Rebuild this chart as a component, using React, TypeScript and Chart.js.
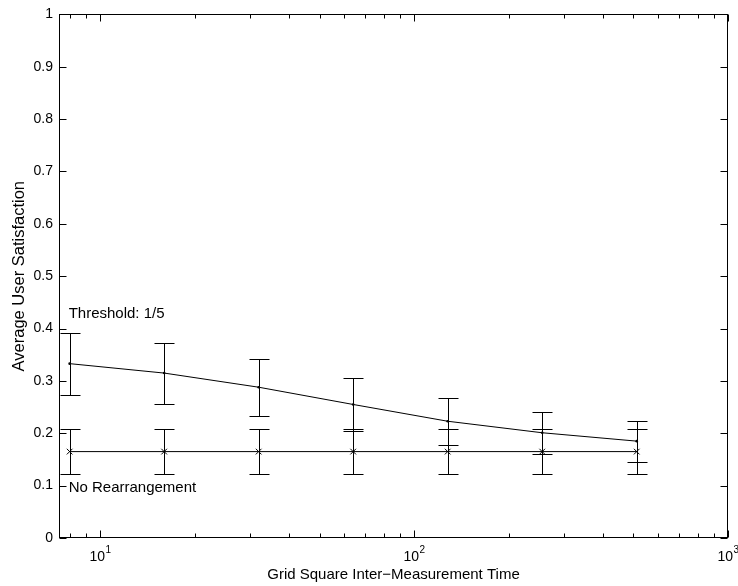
import React, { useEffect, useRef } from 'react';
import { Chart, registerables } from 'chart.js';
Chart.register(...registerables);

const xValues = [8, 16, 32, 64, 128, 256, 512];
const thresholdMean = [0.333, 0.315, 0.288, 0.255, 0.223, 0.201, 0.185];
const thresholdLow = [0.274, 0.256, 0.233, 0.205, 0.178, 0.160, 0.146];
const thresholdHigh = [0.392, 0.373, 0.342, 0.305, 0.268, 0.240, 0.224];
const baseMean = [0.165, 0.165, 0.165, 0.165, 0.165, 0.165, 0.165];
const baseLow = [0.123, 0.123, 0.123, 0.123, 0.123, 0.123, 0.123];
const baseHigh = [0.208, 0.208, 0.208, 0.208, 0.208, 0.208, 0.208];

const yTickValues = [0, 0.1, 0.2, 0.3, 0.4, 0.5, 0.6, 0.7, 0.8, 0.9, 1];
const yTickLabels = ['0', '0.1', '0.2', '0.3', '0.4', '0.5', '0.6', '0.7', '0.8', '0.9', '1'];
const xMajorTicks = [10, 100, 1000];
const xMajorExponents = ['1', '2', '3'];
const xMinorTicks = [8, 9, 20, 30, 40, 50, 60, 70, 80, 90, 200, 300, 400, 500, 600, 700, 800, 900];

const xTitle = 'Grid Square Inter\u2212Measurement Time';
const yTitle = 'Average User Satisfaction';
const thresholdLabel = 'Threshold: 1/5';
const baseLabel = 'No Rearrangement';
const thresholdLabelPos = { x: 8, y: 0.428 };
const baseLabelPos = { x: 8, y: 0.095 };

const FONT = '"Liberation Sans", Arial, Helvetica, sans-serif';

export default function App() {
  const ref = useRef<HTMLCanvasElement | null>(null);

  useEffect(() => {
    const canvas = ref.current;
    if (!canvas) return;

    const errorBars = {
      id: 'errorBars',
      afterDatasetsDraw(chart: any) {
        const { ctx, scales } = chart;
        const xs = scales.x;
        const ys = scales.y;
        ctx.save();
        ctx.strokeStyle = '#000';
        ctx.lineWidth = 1;
        const groups = [
          [thresholdLow, thresholdHigh],
          [baseLow, baseHigh],
        ];
        groups.forEach(([lo, hi]) => {
          xValues.forEach((xv, i) => {
            const px = Math.round(xs.getPixelForValue(xv)) + 0.5;
            const pl = Math.round(ys.getPixelForValue(lo[i])) + 0.5;
            const ph = Math.round(ys.getPixelForValue(hi[i])) + 0.5;
            ctx.beginPath();
            ctx.moveTo(px, pl);
            ctx.lineTo(px, ph);
            ctx.moveTo(px - 10, pl);
            ctx.lineTo(px + 10, pl);
            ctx.moveTo(px - 10, ph);
            ctx.lineTo(px + 10, ph);
            ctx.stroke();
          });
        });
        ctx.restore();
      },
    };

    const frame = {
      id: 'frame',
      afterDraw(chart: any) {
        const { ctx, chartArea, scales } = chart;
        const xs = scales.x;
        const ys = scales.y;
        const l = Math.round(chartArea.left) + 0.5;
        const r = Math.round(chartArea.right) - 0.5;
        const t = Math.round(chartArea.top) + 0.5;
        const b = Math.round(chartArea.bottom) - 0.5;
        ctx.save();
        ctx.strokeStyle = '#000';
        ctx.lineWidth = 1;
        ctx.strokeRect(l, t, r - l, b - t);
        ctx.beginPath();
        yTickValues.forEach((v) => {
          const py = Math.round(ys.getPixelForValue(v)) + 0.5;
          ctx.moveTo(l, py);
          ctx.lineTo(l + 7, py);
          ctx.moveTo(r, py);
          ctx.lineTo(r - 7, py);
        });
        xMajorTicks.forEach((v) => {
          const px = Math.round(xs.getPixelForValue(v)) + 0.5;
          ctx.moveTo(px, b);
          ctx.lineTo(px, b - 7);
          ctx.moveTo(px, t);
          ctx.lineTo(px, t + 7);
        });
        xMinorTicks.forEach((v) => {
          const px = Math.round(xs.getPixelForValue(v)) + 0.5;
          ctx.moveTo(px, b);
          ctx.lineTo(px, b - 4);
          ctx.moveTo(px, t);
          ctx.lineTo(px, t + 4);
        });
        ctx.stroke();

        // x tick labels with superscript exponents
        ctx.fillStyle = '#000';
        ctx.textBaseline = 'middle';
        xMajorTicks.forEach((v, i) => {
          const px = xs.getPixelForValue(v);
          ctx.font = `14px ${FONT}`;
          const baseW = ctx.measureText('10').width;
          ctx.font = `10px ${FONT}`;
          const expW = ctx.measureText(xMajorExponents[i]).width;
          const start = px - (baseW + expW) / 2;
          ctx.font = `14px ${FONT}`;
          ctx.textAlign = 'left';
          ctx.fillText('10', start, chartArea.bottom + 19);
          ctx.font = `10px ${FONT}`;
          ctx.fillText(xMajorExponents[i], start + baseW + 0.5, chartArea.bottom + 12);
        });

        // annotations
        ctx.font = `15px ${FONT}`;
        ctx.textAlign = 'left';
        ctx.fillText(thresholdLabel, xs.getPixelForValue(thresholdLabelPos.x) - 1, ys.getPixelForValue(thresholdLabelPos.y));
        ctx.fillText(baseLabel, xs.getPixelForValue(baseLabelPos.x) - 1, ys.getPixelForValue(baseLabelPos.y));
        ctx.restore();
      },
    };

    const chart = new Chart(canvas, {
      type: 'line',
      data: {
        datasets: [
          {
            label: thresholdLabel,
            data: xValues.map((x, i) => ({ x, y: thresholdMean[i] })),
            borderColor: '#000',
            backgroundColor: '#000',
            borderWidth: 1,
            pointStyle: 'circle',
            pointRadius: 1.3,
            pointBorderWidth: 0,
            tension: 0,
          },
          {
            label: baseLabel,
            data: xValues.map((x, i) => ({ x, y: baseMean[i] })),
            borderColor: '#000',
            backgroundColor: '#000',
            borderWidth: 1,
            pointStyle: 'crossRot',
            pointRadius: 4,
            pointBorderWidth: 1,
            tension: 0,
          },
        ],
      },
      options: {
        animation: false,
        responsive: false,
        maintainAspectRatio: false,
        layout: { padding: { left: 8, top: 12, right: 10, bottom: 0 } },
        plugins: {
          legend: { display: false },
          tooltip: { enabled: false },
        },
        scales: {
          x: {
            type: 'logarithmic',
            min: 7.4,
            max: 1000,
            grid: { display: false, drawTicks: false },
            border: { display: false },
            ticks: { display: false },
            title: {
              display: true,
              text: xTitle,
              color: '#000',
              font: { family: FONT, size: 15 },
              padding: { top: 0, bottom: 2 },
            },
            afterFit: (scale: any) => {
              scale.height = 48;
            },
          },
          y: {
            type: 'linear',
            min: 0,
            max: 1,
            grid: { display: false, drawTicks: false },
            border: { display: false },
            afterBuildTicks: (scale: any) => {
              scale.ticks = yTickValues.map((v) => ({ value: v }));
            },
            ticks: {
              color: '#000',
              font: { family: FONT, size: 14 },
              padding: 6,
              callback: (_v: any, i: number) => yTickLabels[i],
            },
            title: {
              display: true,
              text: yTitle,
              color: '#000',
              font: { family: FONT, size: 16.5 },
              padding: { top: 2, bottom: 0 },
            },
            afterFit: (scale: any) => {
              scale.width = 51;
            },
          },
        },
      },
      plugins: [errorBars, frame],
    });

    return () => chart.destroy();
  }, []);

  return (
    <div style={{ position: 'fixed', left: 0, top: 0, width: 738, height: 586, background: '#fff' }}>
      <canvas ref={ref} width={738} height={586} style={{ display: 'block' }} />
    </div>
  );
}
